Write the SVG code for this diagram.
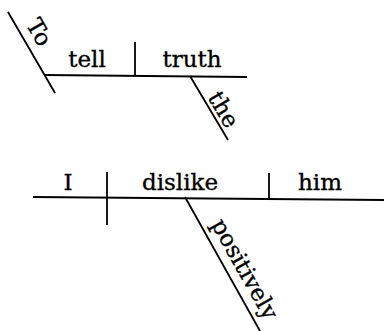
<svg xmlns="http://www.w3.org/2000/svg" width="384" height="331" viewBox="0 0 384 331">
<style>
.ln{stroke:#000;stroke-width:1.8;fill:none;stroke-linecap:butt}
.t{font-family:"DejaVu Serif","Liberation Serif",serif;font-size:23px;fill:#000;stroke:#000;stroke-width:0.35;text-anchor:middle}
</style>
<rect width="384" height="331" fill="#fff"/>
<g id="connectors">
<line class="ln" x1="45" y1="75" x2="247" y2="77"/>
<line class="ln" x1="135" y1="42" x2="135" y2="75"/>
<line class="ln" x1="8" y1="12" x2="55" y2="93"/>
<line class="ln" x1="190" y1="76" x2="228" y2="140"/>
<line class="ln" x1="33" y1="197" x2="384" y2="200"/>
<line class="ln" x1="107" y1="172" x2="107" y2="225"/>
<line class="ln" x1="269" y1="173" x2="269" y2="198"/>
<line class="ln" x1="185" y1="197" x2="260" y2="331"/>
</g>
<g id="to"><text class="t" transform="translate(8,12) rotate(60)" x="33" y="-9">To</text></g>
<g id="tell"><text class="t" x="87" y="67">tell</text></g>
<g id="truth"><text class="t" x="192" y="67">truth</text></g>
<g id="the"><text class="t" transform="translate(190,76) rotate(59.3)" x="46" y="-4">the</text></g>
<g id="I"><text class="t" x="68" y="190">I</text></g>
<g id="dislike"><text class="t" x="180" y="190">dislike</text></g>
<g id="him"><text class="t" x="320" y="190">him</text></g>
<g id="positively"><text class="t" transform="translate(185,197) rotate(60.6)" x="92" y="-9">positively</text></g>
</svg>
